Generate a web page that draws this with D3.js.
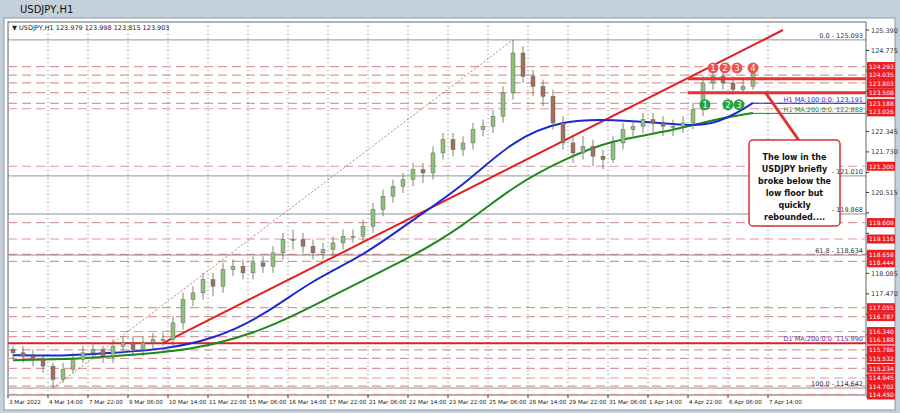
<!DOCTYPE html>
<html><head><meta charset="utf-8">
<script src="https://cdn.jsdelivr.net/npm/d3@7"></script>
<style>
body{margin:0;background:#c9d3df;font-family:"DejaVu Sans",sans-serif;}
</style></head><body>
<svg id="chart" width="900" height="413"></svg>
<script>
// 8-hour bars
const closes = [115.7,115.6,115.5,115.3,114.9,115.2,115.5,115.7,115.8,115.6,115.9,116.0,115.8,116.0,116.1,116.1,116.6,117.3,117.5,117.9,
  117.7,118.2,118.3,118.1,118.4,118.3,118.7,119.1,119.1,118.9,118.7,118.8,119.0,119.2,119.2,119.5,120.0,120.4,120.7,120.9,
  121.2,121.1,121.7,122.1,121.8,122.0,122.4,122.5,122.8,123.5,124.7,124.0,123.7,123.4,122.6,122.0,121.7,121.9,121.6,121.5,
  122.0,122.4,122.5,122.7,122.6,122.5,122.5,122.6,123.0,123.8,124.0,123.8,123.6,123.7,124.1];
const highs = [115.9,115.9,115.8,115.6,115.4,115.4,115.7,115.9,116.0,115.9,116.1,116.2,116.2,116.2,116.3,116.3,116.8,117.5,117.7,118.1,
  118.1,118.4,118.5,118.5,118.6,118.6,118.9,119.3,119.4,119.3,119.1,119.0,119.2,119.4,119.4,119.7,120.2,120.6,120.9,121.1,
  121.4,121.4,121.9,122.3,122.3,122.2,122.6,122.7,123.0,123.7,125.09,124.9,124.2,123.9,123.6,122.8,122.2,122.2,122.1,121.8,
  122.2,122.6,122.7,122.9,122.9,122.8,122.7,122.8,123.2,124.0,124.2,124.2,124.0,123.9,124.3];
const lows = [115.5,115.4,115.3,115.1,114.65,114.8,115.1,115.4,115.5,115.4,115.4,115.7,115.6,115.6,115.8,115.9,115.9,116.4,117.1,117.3,
  117.4,117.5,118.0,117.9,117.9,118.1,118.1,118.5,118.8,118.7,118.5,118.5,118.6,118.8,119.0,119.0,119.3,119.8,120.2,120.5,
  120.7,120.8,120.9,121.5,121.6,121.6,121.8,122.2,122.3,122.6,123.3,123.8,123.4,123.1,122.4,121.8,121.4,121.5,121.3,121.2,
  121.4,121.8,122.2,122.3,122.3,122.2,122.2,122.3,122.4,122.8,123.6,123.6,123.45,123.5,123.6];
const firstOpen = 115.8;

const maIdx = [0,5,10,15,20,25,30,35,40,45,50,55,60,65,70,74];
const ma100 = [115.63,115.6,115.7,115.8,116.1,116.8,117.9,118.6,119.7,120.7,122.1,122.7,122.7,122.6,122.45,123.2];
const ma200 = [115.48,115.5,115.6,115.7,115.93,116.38,117.1,117.88,118.6,119.5,120.7,121.5,122.1,122.3,122.7,122.9];

const dateLabels = ['3 Mar 2022','4 Mar 14:00','7 Mar 22:00','9 Mar 06:00','10 Mar 14:00','11 Mar 22:00','15 Mar 06:00',
  '16 Mar 14:00','17 Mar 22:00','21 Mar 06:00','22 Mar 14:00','23 Mar 22:00','25 Mar 06:00','28 Mar 14:00','29 Mar 22:00',
  '31 Mar 06:00','1 Apr 14:00','4 Apr 22:00','6 Apr 06:00','7 Apr 14:00'];
const priceTicks = [125.390,124.775,124.160,123.545,122.930,122.345,121.730,121.115,120.515,119.900,119.285,118.670,118.085,117.470,116.855,116.240,115.625,115.010,114.395];
const levelLabels = [124.293,124.035,123.803,123.508,123.188,123.026,121.300,119.609,119.116,118.658,118.444,117.055,116.787,116.340,116.188,115.786,115.532,115.234,114.945,114.702,114.450];
const fibLevels = [[125.093,'0.0 - 125.093'],[121.010,'- 121.010'],[119.868,'- 119.868'],[118.634,'61.8 - 118.634'],[114.642,'100.0 - 114.642']];
const floorLevels = [123.93,123.508];
const redCircles = [[70,124.25,'1'],[71.2,124.25,'2'],[72.4,124.25,'3'],[74,124.25,'4']];
const greenCircles = [[69.2,123.15,'1'],[71.5,123.15,'2'],[72.6,123.15,'3']];

const svg = d3.select('#chart');
const L = 8, R = 866, T = 22, B = 395;
const x = d3.scaleLinear().domain([0, 75]).range([13, 763]);
const y = d3.scaleLinear().domain([125.39, 114.395]).range([30, 396.3]);

// window frame
svg.append('rect').attr('x', 0).attr('y', 0).attr('width', 900).attr('height', 413).attr('fill', '#c5d0dd');
svg.append('text').attr('x', 20).attr('y', 13).attr('font-size', 10).attr('fill', '#111').text('USDJPY,H1');
svg.append('rect').attr('x', 4).attr('y', 18).attr('width', 891).attr('height', 392).attr('fill', '#fff').attr('stroke', '#8a97a8');
svg.append('rect').attr('x', L).attr('y', T).attr('width', R - L).attr('height', B - T).attr('fill', 'none').attr('stroke', '#666');

const plot = svg.append('g');
plot.append('clipPath').attr('id', 'clip').append('rect').attr('x', L).attr('y', T).attr('width', R - L).attr('height', B - T);
const g = plot.append('g').attr('clip-path', 'url(#clip)');

// vertical dotted grid
dateLabels.forEach((d, k) => {
  const xx = x(4 * k) - 5;
  g.append('line').attr('x1', xx).attr('x2', xx).attr('y1', T).attr('y2', B)
    .attr('stroke', '#555').attr('stroke-dasharray', '1,3').attr('stroke-width', 0.8);
});

// dashed levels
levelLabels.forEach(p => {
  g.append('line').attr('x1', L).attr('x2', R).attr('y1', y(p)).attr('y2', y(p))
    .attr('stroke', '#d99a9a').attr('stroke-dasharray', '9,5').attr('stroke-width', 1.2);
});
fibLevels.forEach(([p, t]) => {
  g.append('line').attr('x1', L).attr('x2', R).attr('y1', y(p)).attr('y2', y(p)).attr('stroke', '#777').attr('stroke-width', 0.8);
});

// fib diagonal
g.append('line').attr('x1', x(4)).attr('y1', y(114.642)).attr('x2', x(50)).attr('y2', y(125.093))
  .attr('stroke', '#b55').attr('stroke-dasharray', '2,2').attr('stroke-width', 0.8);

// base red line and trend line
g.append('line').attr('x1', L).attr('x2', R).attr('y1', y(115.99)).attr('y2', y(115.99)).attr('stroke', '#e02020').attr('stroke-width', 2);
g.append('line').attr('x1', x(15)).attr('y1', y(115.99)).attr('x2', x(77)).attr('y2', y(125.39)).attr('stroke', '#e02020').attr('stroke-width', 2);

// moving averages
const maLine = d3.line().x((d, i) => x(maIdx[i])).y(d => y(d)).curve(d3.curveBasis);
g.append('path').datum(ma200).attr('d', maLine).attr('fill', 'none').attr('stroke', '#1a8a1a').attr('stroke-width', 2);
g.append('path').datum(ma100).attr('d', maLine).attr('fill', 'none').attr('stroke', '#1a2ad0').attr('stroke-width', 2);
g.append('line').attr('x1', x(74)).attr('x2', R).attr('y1', y(123.191)).attr('y2', y(123.191)).attr('stroke', '#1a2ad0').attr('stroke-width', 1);
g.append('line').attr('x1', x(74)).attr('x2', R).attr('y1', y(122.888)).attr('y2', y(122.888)).attr('stroke', '#1a8a1a').attr('stroke-width', 1);
svg.append('text').attr('x', R - 3).attr('y', y(123.191) - 1).attr('text-anchor', 'end').attr('font-size', 6.5).attr('fill', '#1a2ad0').text('H1 MA:100:0:0: 123.191');
svg.append('text').attr('x', R - 3).attr('y', y(122.888) - 1).attr('text-anchor', 'end').attr('font-size', 6.5).attr('fill', '#1a8a1a').text('H1 MA:200:0:0: 122.888');
svg.append('text').attr('x', R - 3).attr('y', y(115.99) - 2).attr('text-anchor', 'end').attr('font-size', 6.5).attr('fill', '#5a3ab0').text('D1 MA:200:0:0: 115.990');

// candles
const opens = closes.map((c, i) => i === 0 ? firstOpen : closes[i - 1]);
const cg = g.append('g');
closes.forEach((c, i) => {
  const o = opens[i];
  cg.append('line').attr('x1', x(i)).attr('x2', x(i)).attr('y1', y(highs[i])).attr('y2', y(lows[i])).attr('stroke', '#5a6a4a').attr('stroke-width', 0.8);
  cg.append('rect').attr('x', x(i) - 2).attr('width', 4)
    .attr('y', y(Math.max(o, c))).attr('height', Math.max(1, Math.abs(y(o) - y(c))))
    .attr('fill', c >= o ? '#8fc07a' : '#a07058').attr('stroke', '#556').attr('stroke-width', 0.4);
});

// floor/ceiling thick lines
floorLevels.forEach(p => {
  g.append('line').attr('x1', x(67.5)).attr('x2', R).attr('y1', y(p)).attr('y2', y(p)).attr('stroke', '#ee3030').attr('stroke-width', 3);
});

// circles
const circ = (arr, col) => arr.forEach(([i, p, t]) => {
  svg.append('circle').attr('cx', x(i)).attr('cy', y(p)).attr('r', 5.5).attr('fill', col);
  svg.append('text').attr('x', x(i)).attr('y', y(p) + 3).attr('text-anchor', 'middle').attr('font-size', 8).attr('fill', '#fff').text(t);
});
circ(redCircles, '#f05050');
circ(greenCircles, '#2aa040');

// annotation
svg.append('line').attr('x1', 800).attr('y1', 142).attr('x2', 765).attr('y2', 92).attr('stroke', '#e03030').attr('stroke-width', 3);
svg.append('rect').attr('x', 749).attr('y', 140).attr('width', 91).attr('height', 86).attr('rx', 4)
  .attr('fill', '#fff').attr('stroke', '#d03030').attr('stroke-width', 1.5);
['The low in the', 'USDJPY briefly', 'broke below the', 'low floor but', 'quickly', 'rebounded....'].forEach((t, k) => {
  svg.append('text').attr('x', 794.5).attr('y', 160 + k * 12).attr('text-anchor', 'middle')
    .attr('font-size', 8).attr('font-weight', 'bold').attr('fill', '#111').text(t);
});

// fib labels drawn on top
fibLevels.forEach(([p, t]) => {
  svg.append('text').attr('x', R - 3).attr('y', y(p) - 2).attr('text-anchor', 'end').attr('font-size', 6.5).attr('fill', '#333').text(t);
});

// right axis: grey ticks only where no red label covers them
priceTicks.forEach(p => {
  svg.append('line').attr('x1', R).attr('x2', R + 3).attr('y1', y(p)).attr('y2', y(p)).attr('stroke', '#333');
  if (levelLabels.some(q => Math.abs(y(q) - y(p)) < 10)) return;
  svg.append('text').attr('x', R + 5).attr('y', y(p) + 2.5).attr('font-size', 6.5).attr('fill', '#333').text(p.toFixed(3));
});
// red labels, nudged apart when closer than their height
let lastY = -100;
levelLabels.forEach(p => {
  const ly = Math.max(y(p), lastY + 8.5);
  lastY = ly;
  svg.append('rect').attr('x', R + 1).attr('y', ly - 4.5).attr('width', 28).attr('height', 9).attr('fill', '#ee1c1c');
  svg.append('text').attr('x', R + 3).attr('y', ly + 2.3).attr('font-size', 6).attr('fill', '#fff').text(p.toFixed(3));
});

// bottom axis
dateLabels.forEach((d, k) => {
  const xx = x(4 * k) - 5;
  svg.append('line').attr('x1', xx).attr('x2', xx).attr('y1', B).attr('y2', B + 3).attr('stroke', '#333');
  svg.append('text').attr('x', xx + 1).attr('y', B + 9).attr('font-size', 5.6).attr('fill', '#222').text(d);
});

// header info
svg.append('text').attr('x', 12).attr('y', 30).attr('font-size', 6.5).attr('fill', '#222')
  .text('▼ USDJPY,H1  123.979 123.998 123.815 123.903');
</script></body></html>
